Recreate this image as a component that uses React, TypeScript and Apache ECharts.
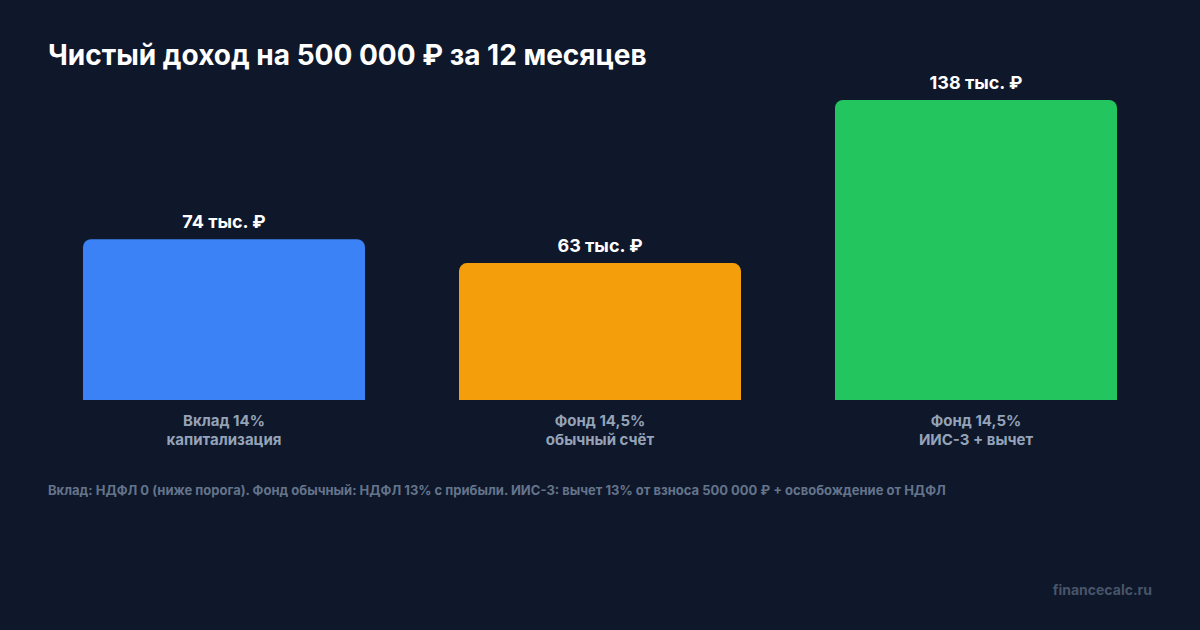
import React, { useEffect, useRef } from 'react'
import * as echarts from 'echarts'

// данные
const categories = ['Вклад 14%\nкапитализация', 'Фонд 14,5%\nобычный счёт', 'Фонд 14,5%\nИИС-3 + вычет']
const incomeValues = [74, 63, 138] // тыс. ₽
const barColors = ['#3b82f6', '#f59e0b', '#22c55e']

const titleText = 'Чистый доход на 500 000 ₽ за 12 месяцев'
const footnoteText =
  'Вклад: НДФЛ 0 (ниже порога). Фонд обычный: НДФЛ 13% с прибыли. ИИС-3: вычет 13% от взноса 500 000 ₽ + освобождение от НДФЛ'
const sourceText = 'financecalc.ru'

const FONT = 'Inter, "Noto Sans", sans-serif'

export default function App() {
  const chartRef = useRef<HTMLDivElement>(null)

  useEffect(() => {
    if (!chartRef.current) return
    const chart = echarts.init(chartRef.current, null, { renderer: 'svg' })

    const option = {
      animation: false,
      backgroundColor: '#0f172a',
      textStyle: { fontFamily: FONT },
      title: {
        text: titleText,
        left: 48,
        top: 41,
        padding: 0,
        textStyle: {
          color: '#ffffff',
          fontSize: 28,
          fontWeight: 'bold',
          fontFamily: FONT,
        },
      },
      grid: {
        left: 36,
        right: 36,
        top: 100,
        bottom: 230,
        containLabel: false,
      },
      xAxis: {
        type: 'category',
        data: categories,
        axisLine: { show: false },
        axisTick: { show: false },
        axisLabel: {
          color: '#94a3b8',
          fontSize: 15,
          fontWeight: 'bold',
          lineHeight: 19,
          margin: 11,
          fontFamily: FONT,
        },
      },
      yAxis: {
        type: 'value',
        min: 0,
        max: (v: { max: number }) => v.max,
        show: false,
        splitLine: { show: false },
      },
      series: [
        {
          type: 'bar',
          barWidth: '75%',
          data: incomeValues.map((v, i) => ({
            value: v,
            itemStyle: { color: barColors[i], borderRadius: [8, 8, 0, 0] },
          })),
          label: {
            show: true,
            position: 'top',
            distance: 9,
            color: '#ffffff',
            fontSize: 18,
            fontWeight: 'bold',
            fontFamily: FONT,
            formatter: (p: any) => `${p.value} тыс. ₽`,
          },
        },
      ],
      graphic: [
        {
          type: 'text',
          left: 48,
          top: 483,
          style: {
            text: footnoteText,
            fill: '#64748b',
            font: `bold 13px ${FONT}`,
          },
        },
        {
          type: 'text',
          right: 48,
          top: 582,
          style: {
            text: sourceText,
            fill: '#475569',
            font: `bold 14px ${FONT}`,
          },
        },
      ],
    }

    chart.setOption(option)

    return () => {
      chart.dispose()
    }
  }, [])

  return (
    <div
      ref={chartRef}
      style={{ position: 'fixed', left: 0, top: 0, width: 1200, height: 630 }}
    />
  )
}
